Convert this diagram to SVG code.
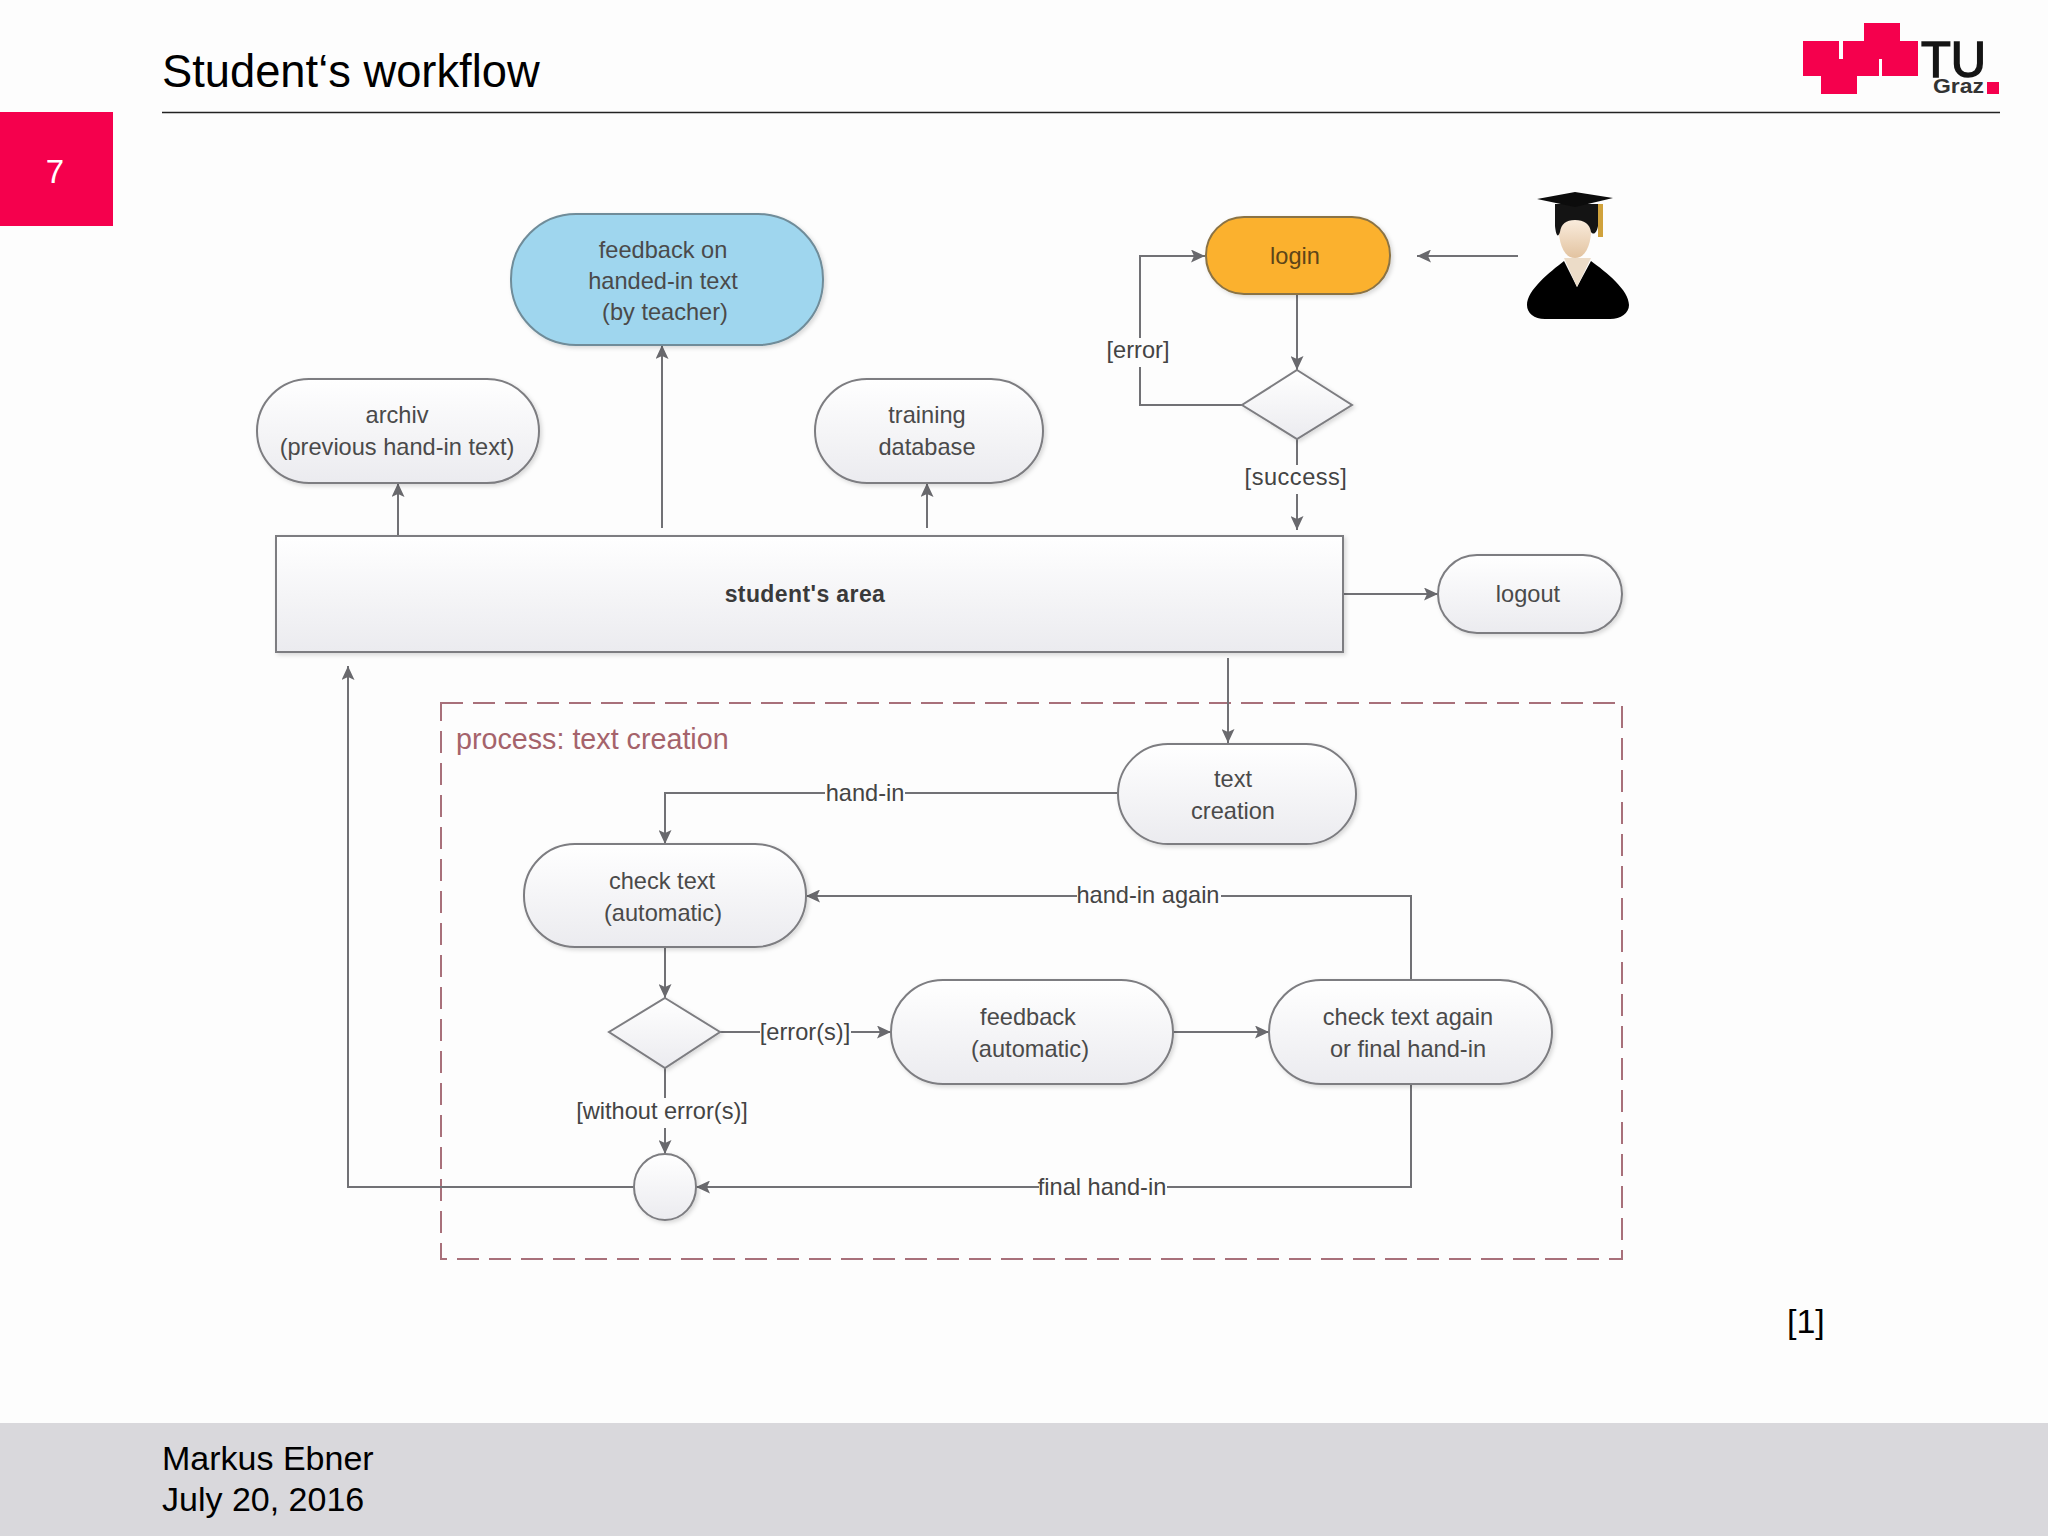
<svg xmlns="http://www.w3.org/2000/svg" width="2048" height="1536" viewBox="0 0 2048 1536">
<style>
text{font-family:"Liberation Sans",Arial,sans-serif}
.h{fill:#000}
.t{font-size:23.600px;fill:#4a4a4a;text-anchor:middle}
.l{font-size:23.600px;fill:#444;text-anchor:middle}
.n{fill:url(#g);stroke:#7d7d81;stroke-width:2;filter:url(#s)}
.c{fill:none;stroke:#717175;stroke-width:2}
.a{marker-end:url(#m)}
.r{fill:#f5004d}
</style>
<defs>
<linearGradient id="g" x1="0" y1="0" x2="0" y2="1"><stop offset="0" stop-color="#ffffff"/><stop offset="1" stop-color="#ebebef"/></linearGradient>
<linearGradient id="f" x1="0" y1="0" x2="0" y2="1"><stop offset="0" stop-color="#fbeee0"/><stop offset="1" stop-color="#e2c3a0"/></linearGradient>
<filter id="s" x="-5%" y="-5%" width="112%" height="115%"><feDropShadow dx="2" dy="2" stdDeviation="2" flood-color="#000" flood-opacity=".15"/></filter>
<marker id="m" markerUnits="userSpaceOnUse" markerWidth="15" markerHeight="13" refX="14" refY="6.500" orient="auto"><path d="M0 0L14 6.500L0 13L3 6.500Z" fill="#69696d"/></marker>
</defs>
<rect width="2048" height="1536" fill="#fdfdfd"/>
<g id="header">
<text class="h" x="162" y="87" font-size="45.300">Student‘s workflow</text>
<line x1="162" y1="112.500" x2="2000" y2="112.500" stroke="#222" stroke-width="1.500"/>
<rect class="r" x="0" y="112" width="113" height="114"/>
<text x="55" y="183" font-size="33" fill="#fff" text-anchor="middle">7</text>
</g>
<g id="logo">
<rect class="r" x="1803" y="41" width="36" height="35"/>
<rect class="r" x="1821" y="59" width="36" height="35"/>
<rect class="r" x="1843" y="41" width="36" height="35"/>
<rect class="r" x="1864" y="23" width="36" height="36"/>
<rect class="r" x="1882" y="41" width="36" height="35"/>
<text x="1921" y="77" font-size="50" textLength="65" lengthAdjust="spacingAndGlyphs" fill="#151515" stroke="#151515" stroke-width="1.500">TU</text>
<text x="1933" y="93" font-size="21" font-weight="bold" textLength="51" lengthAdjust="spacingAndGlyphs" fill="#333">Graz</text>
<rect class="r" x="1987" y="82" width="12" height="12"/>
</g>
<g id="footer">
<rect x="0" y="1423" width="2048" height="113" fill="#d9d8dc"/>
<text class="h" x="162" y="1470" font-size="34">Markus Ebner</text>
<text class="h" x="162" y="1511" font-size="34">July 20, 2016</text>
</g>
<text class="h" x="1787" y="1333" font-size="34">[1]</text>
<g id="process-frame">
<rect x="441" y="703" width="1181" height="556" fill="none" stroke="#a8707a" stroke-width="2" stroke-dasharray="22 10"/>
<text x="456" y="749" font-size="28.700" fill="#a5636b">process: text creation</text>
</g>
<g id="connectors">
<path class="c a" d="M1297 294V370"/>
<path class="c" d="M1242 405H1140V367"/>
<path class="c a" d="M1140 338V256H1205"/>
<path class="c a" d="M1518 256H1417"/>
<path class="c" d="M1297 439V465"/>
<path class="c a" d="M1297 494V530"/>
<path class="c a" d="M398 535V483"/>
<path class="c a" d="M662 528V345"/>
<path class="c a" d="M927 528V483"/>
<path class="c a" d="M1343 594H1438"/>
<path class="c a" d="M1228 658V743"/>
<path class="c" d="M1118 793H905"/>
<path class="c a" d="M825 793H665V844"/>
<path class="c a" d="M665 947V998"/>
<path class="c" d="M720 1032H760"/>
<path class="c a" d="M851 1032H891"/>
<path class="c a" d="M1173 1032H1269"/>
<path class="c" d="M1411 980V896H1221"/>
<path class="c a" d="M1077 896H806"/>
<path class="c" d="M1411 1084V1187H1167"/>
<path class="c a" d="M1039 1187H696"/>
<path class="c" d="M665 1068V1098"/>
<path class="c a" d="M665 1128V1154"/>
<path class="c a" d="M633 1187H348V666"/>
<text class="l" x="1138" y="358">[error]</text>
<text class="l" x="1296" y="485" letter-spacing=".5">[success]</text>
<text class="l" x="865" y="801">hand-in</text>
<text class="l" x="1148" y="903">hand-in again</text>
<text class="l" x="805" y="1040">[error(s)]</text>
<text class="l" x="662" y="1119">[without error(s)]</text>
<text class="l" x="1102" y="1195">final hand-in</text>
</g>
<g id="node-feedback-teacher"><rect x="511" y="214" width="312" height="131" rx="65" fill="#9fd6ee" stroke="#6f8c99" stroke-width="2" filter="url(#s)"/>
<text class="t" x="663" y="258">feedback on</text><text class="t" x="663" y="289">handed-in text</text><text class="t" x="665" y="320">(by teacher)</text></g>
<g id="node-archiv"><rect class="n" x="257" y="379" width="282" height="104" rx="52"/>
<text class="t" x="397" y="423">archiv</text><text class="t" x="397" y="455">(previous hand-in text)</text></g>
<g id="node-training"><rect class="n" x="815" y="379" width="228" height="104" rx="52"/>
<text class="t" x="927" y="423">training</text><text class="t" x="927" y="455">database</text></g>
<g id="node-login"><rect x="1206" y="217" width="184" height="77" rx="38" fill="#fbb12f" stroke="#8a7345" stroke-width="2" filter="url(#s)"/>
<text class="t" x="1295" y="264" style="fill:#5d4518">login</text></g>
<g id="node-decision-login"><path class="n" d="M1297 370L1352 405L1297 439L1242 405Z"/></g>
<g id="node-student">
<path d="M1564 261C1550 272 1527 290 1527 305C1527 313 1534 319 1545 319H1610C1621 319 1629 313 1629 305C1629 290 1606 272 1591 261L1577 287Z" fill="#000"/>
<path d="M1564 258L1591 258L1577 287Z" fill="#ecdcc8"/>
<path d="M1558 218C1558 240 1562 258 1575 258C1588 258 1592 240 1592 218Z" fill="url(#f)"/>
<path d="M1555 204V226C1556 236 1558 238 1560 232C1561 224 1566 220 1575 220C1584 220 1590 224 1591 232C1594 236 1597 232 1598 226V204Z" fill="#141414"/>
<path d="M1537 199L1575 192L1613 198L1575 207Z" fill="#0c0c0c"/>
<rect x="1598" y="204" width="5" height="33" fill="#d0a23c"/>
</g>
<g id="node-students-area"><rect class="n" x="276" y="536" width="1067" height="116" rx="0"/>
<text x="805" y="602" font-size="23" font-weight="bold" fill="#3a3a3a" text-anchor="middle" letter-spacing=".4">student's area</text></g>
<g id="node-logout"><rect class="n" x="1438" y="555" width="184" height="78" rx="39"/>
<text class="t" x="1528" y="602">logout</text></g>
<g id="node-text-creation"><rect class="n" x="1118" y="744" width="238" height="100" rx="50"/>
<text class="t" x="1233" y="787">text</text><text class="t" x="1233" y="819">creation</text></g>
<g id="node-check-text"><rect class="n" x="524" y="844" width="282" height="103" rx="51"/>
<text class="t" x="662" y="889">check text</text><text class="t" x="663" y="921">(automatic)</text></g>
<g id="node-decision-check"><path class="n" d="M665 998L720 1032L665 1068L609 1032Z"/></g>
<g id="node-feedback-auto"><rect class="n" x="891" y="980" width="282" height="104" rx="52"/>
<text class="t" x="1028" y="1025">feedback</text><text class="t" x="1030" y="1057">(automatic)</text></g>
<g id="node-check-again"><rect class="n" x="1269" y="980" width="283" height="104" rx="52"/>
<text class="t" x="1408" y="1025">check text again</text><text class="t" x="1408" y="1057">or final hand-in</text></g>
<g id="node-merge"><ellipse class="n" cx="665" cy="1187" rx="31" ry="33"/></g>
</svg>
